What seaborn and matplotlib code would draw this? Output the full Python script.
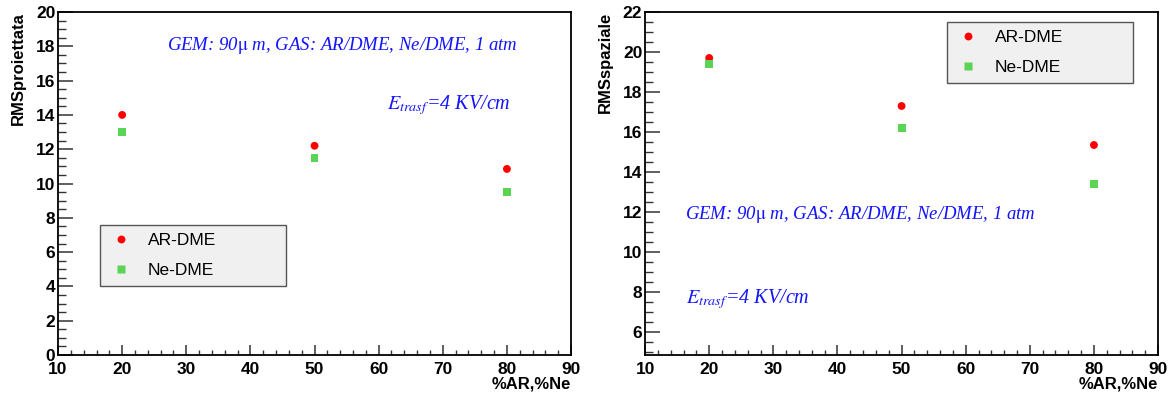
import matplotlib
matplotlib.use("Agg")
import matplotlib.pyplot as plt
from matplotlib.ticker import MultipleLocator
import seaborn as sns
import pandas as pd

# gas fraction (%AR or %Ne)
fraction = [20, 50, 80]
# projected RMS
rms_proj_ar = [14.0, 12.2, 10.85]
rms_proj_ne = [13.0, 11.5, 9.5]
# spatial RMS
rms_spat_ar = [19.7, 17.3, 15.35]
rms_spat_ne = [19.4, 16.2, 13.4]

series_names = ["AR-DME", "Ne-DME"]
palette = {"AR-DME": "#ff0000", "Ne-DME": "#59d454"}
markers = {"AR-DME": "o", "Ne-DME": "s"}


def make_frame(ar, ne):
    return pd.DataFrame({
        "x": fraction * 2,
        "y": ar + ne,
        "gas": [series_names[0]] * 3 + [series_names[1]] * 3,
    })


sns.set_style("ticks")
plt.rcParams["font.family"] = ["Liberation Sans", "DejaVu Sans"]
plt.rcParams["mathtext.fontset"] = "stix"
plt.rcParams["text.color"] = "black"
plt.rcParams["axes.labelcolor"] = "black"
plt.rcParams["xtick.color"] = "black"
plt.rcParams["ytick.color"] = "black"

fig = plt.figure(figsize=(11.75, 3.99), dpi=100)
ax1 = fig.add_axes([0.0494, 0.1103, 0.4366, 0.8596])
ax2 = fig.add_axes([0.549, 0.1103, 0.4366, 0.8596])


def style_axis(ax, ylabel, ylim):
    ax.set_xlim(10, 90)
    ax.set_ylim(*ylim)
    ax.xaxis.set_major_locator(MultipleLocator(10))
    ax.xaxis.set_minor_locator(MultipleLocator(2))
    ax.yaxis.set_major_locator(MultipleLocator(2))
    ax.yaxis.set_minor_locator(MultipleLocator(0.5))
    ax.tick_params(axis="y", which="major", direction="in", length=11, width=1.1, color="#333333",
                   labelsize=12.5, pad=2)
    ax.tick_params(axis="y", which="minor", direction="in", length=5.5, width=1.0, color="#333333")
    ax.tick_params(axis="x", which="major", direction="in", length=7.5, width=1.1, color="#333333",
                   labelsize=12.5, pad=5)
    ax.tick_params(axis="x", which="minor", direction="in", length=3.8, width=1.0, color="#333333")
    for lab in ax.get_xticklabels() + ax.get_yticklabels():
        lab.set_fontweight("bold")
    for sp in ax.spines.values():
        sp.set_visible(True)
        sp.set_linewidth(1.3)
        sp.set_color("black")
    ax.set_ylabel(ylabel, fontsize=12, fontweight="bold", loc="top")
    ax.yaxis.set_label_coords(-0.063, 1.0)
    ax.set_xlabel("%AR,%Ne", fontsize=12, fontweight="bold")
    ax.xaxis.set_label_coords(1.0, -0.063)
    ax.xaxis.label.set_horizontalalignment("right")


def style_legend(ax, anchor):
    leg = ax.legend(loc="upper left", bbox_to_anchor=anchor, mode="expand", frameon=True,
                    fancybox=False, fontsize=12.5, handlelength=1.5, handletextpad=0.8,
                    borderpad=0.45, labelspacing=0.85, borderaxespad=0)
    leg.get_frame().set_facecolor("#f0f0f0")
    leg.get_frame().set_edgecolor("#555555")
    leg.get_frame().set_linewidth(1.0)
    leg.get_frame().set_alpha(1)
    return leg


blue = "#1414ff"
serif = ["Liberation Serif", "DejaVu Serif"]
gem_text = "GEM: 90$\\mathrm{\\mu}$ m, GAS: AR/DME, Ne/DME, 1 atm"

# left panel
sns.scatterplot(data=make_frame(rms_proj_ar, rms_proj_ne), x="x", y="y", hue="gas", style="gas",
                palette=palette, markers=markers, s=32, edgecolor="none", ax=ax1)
style_axis(ax1, "RMSproiettata", (0, 20))
style_legend(ax1, (0.0819, 0.379, 0.3626, 0.0))
ax1.text(27.0, 18.05, gem_text, color=blue, fontsize=13.5,
         style="italic", family=serif, va="center")
ax1.text(61.3, 14.6, r"$E_{trasf}$=4 KV/cm", color=blue, fontsize=14.5,
         style="italic", family=serif, va="center")

# right panel
sns.scatterplot(data=make_frame(rms_spat_ar, rms_spat_ne), x="x", y="y", hue="gas", style="gas",
                palette=palette, markers=markers, s=32, edgecolor="none", ax=ax2)
style_axis(ax2, "RMSspaziale", (4.85, 22))
style_legend(ax2, (0.5887, 0.971, 0.3626, 0.0))
ax2.text(16.2, 11.85, gem_text, color=blue, fontsize=13.5,
         style="italic", family=serif, va="center")
ax2.text(16.4, 7.65, r"$E_{trasf}$=4 KV/cm", color=blue, fontsize=14.5,
         style="italic", family=serif, va="center")

fig.savefig("out.png", dpi=100)
